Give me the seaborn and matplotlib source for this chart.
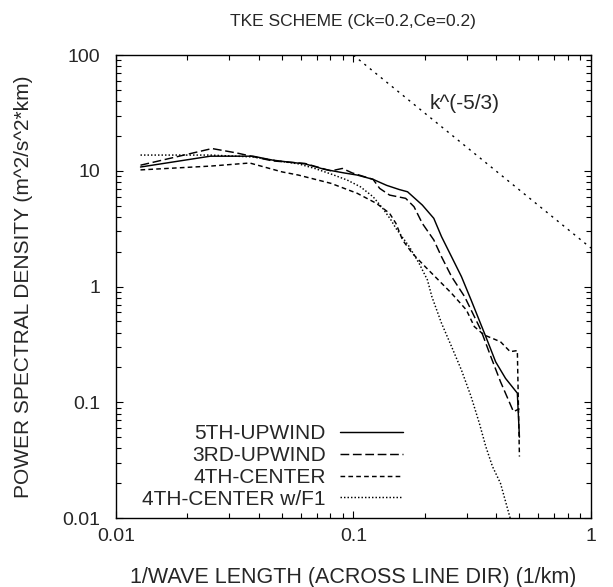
import pandas as pd
import seaborn as sns
import matplotlib
matplotlib.use('Agg')
import matplotlib.pyplot as plt
from matplotlib import ticker

# values (k in 1/km, PSD in m^2/s^2*km)
k_5up = [0.0127, 0.025, 0.0378, 0.0456, 0.0518, 0.0625, 0.0757, 0.0914, 0.1038, 0.121,
         0.138, 0.156, 0.169, 0.195, 0.218, 0.235, 0.259, 0.285, 0.313, 0.361, 0.397,
         0.437, 0.49, 0.5]
psd_5up = [10.8, 13.4, 13.4, 12.4, 12.0, 11.5, 10.3, 9.6, 9.2, 8.45,
           7.5, 6.9, 6.6, 5.07, 3.89, 2.70, 1.81, 1.22, 0.766, 0.369, 0.224,
           0.161, 0.12, 0.050]

k_3up = [0.0127, 0.0254, 0.0322, 0.0456, 0.0625, 0.0805, 0.0899, 0.0989, 0.121, 0.129,
         0.142, 0.166, 0.180, 0.195, 0.218, 0.235, 0.259, 0.294, 0.344, 0.379,
         0.416, 0.472, 0.5]
psd_3up = [11.2, 15.6, 14.3, 12.2, 11.6, 10.0, 10.5, 9.6, 8.45, 7.06,
           6.18, 5.79, 4.9, 3.52, 2.53, 1.81, 1.22, 0.818, 0.422, 0.248,
           0.151, 0.083, 0.088]

k_4c = [0.0127, 0.025, 0.0366, 0.0501, 0.0587, 0.0805, 0.1038, 0.125, 0.142, 0.151,
        0.161, 0.177, 0.201, 0.228, 0.259, 0.299, 0.323, 0.355, 0.416, 0.457,
        0.49, 0.5]
psd_4c = [10.2, 11.0, 11.7, 9.8, 9.2, 7.8, 6.4, 5.24, 4.30, 3.52,
          2.53, 1.94, 1.48, 1.14, 0.875, 0.628, 0.451, 0.382, 0.334, 0.274,
          0.28, 0.034]

k_4cf = [0.0127, 0.025, 0.0378, 0.0456, 0.0587, 0.0687, 0.0805, 0.0942, 0.107, 0.121,
         0.133, 0.144, 0.151, 0.172, 0.189, 0.205, 0.214, 0.235, 0.259, 0.285,
         0.313, 0.339, 0.361, 0.385, 0.416, 0.457, 0.5]
psd_4cf = [13.7, 13.7, 13.2, 12.4, 11.5, 10.5, 9.4, 8.33, 7.29, 5.98,
           4.74, 3.76, 3.19, 2.21, 1.59, 1.14, 0.818, 0.482, 0.303, 0.19,
           0.112, 0.066, 0.0414, 0.0279, 0.020, 0.010, 0.007]

# k^(-5/3) reference line
k_ref = [0.1, 1.0]
psd_ref = [100.0, 2.154]

labels = ['5TH-UPWIND', '3RD-UPWIND', '4TH-CENTER', '4TH-CENTER w/F1']
styles = ['-', (0, (6, 2.5)), (0, (3.2, 2.2)), (0, (1, 1.4))]

df = pd.concat([
    pd.DataFrame({'k': k_5up, 'psd': psd_5up, 'scheme': labels[0]}),
    pd.DataFrame({'k': k_3up, 'psd': psd_3up, 'scheme': labels[1]}),
    pd.DataFrame({'k': k_4c, 'psd': psd_4c, 'scheme': labels[2]}),
    pd.DataFrame({'k': k_4cf, 'psd': psd_4cf, 'scheme': labels[3]}),
])

sns.set_style('ticks')
plt.rcParams['font.family'] = ['Liberation Sans', 'DejaVu Sans']

fig = plt.figure(figsize=(6.13, 5.87), dpi=100)
ax = fig.add_axes([0.189, 0.1175, 0.775, 0.7885])

for name, ls in zip(labels, styles):
    sub = df[df['scheme'] == name]
    sns.lineplot(x=sub['k'], y=sub['psd'], ax=ax, color='black', lw=1.05,
                 linestyle=ls, estimator=None, sort=False, label=name)

sns.lineplot(x=k_ref, y=psd_ref, ax=ax, color='black', lw=1.0,
             linestyle=(0, (1.6, 3.5)), estimator=None, sort=False)
ax.text(0.661, 0.895, 'k^(-5/3)', transform=ax.transAxes, fontsize=15,
        ha='left', va='center')

ax.set_xscale('log')
ax.set_yscale('log')
ax.set_xlim(0.01, 1)
ax.set_ylim(0.01, 100)
fmt = ticker.FuncFormatter(lambda v, p: '%g' % v)
ax.xaxis.set_major_formatter(fmt)
ax.yaxis.set_major_formatter(fmt)
ax.xaxis.set_minor_formatter(ticker.NullFormatter())
ax.yaxis.set_minor_formatter(ticker.NullFormatter())
ax.tick_params(which='both', direction='in', top=True, right=True, width=0.8,
               labelsize=14, color='black')
ax.tick_params(which='major', length=5)
ax.tick_params(which='minor', length=3.3)
ax.tick_params(axis='x', which='major', pad=7)
ax.tick_params(axis='y', which='major', pad=11)
for s in ax.spines.values():
    s.set_linewidth(1.0)
    s.set_color('black')

ax.set_xlabel('1/WAVE LENGTH (ACROSS LINE DIR) (1/km)', fontsize=15.5, labelpad=16)
ax.set_ylabel('POWER SPECTRAL DENSITY (m^2/s^2*km)', fontsize=15, labelpad=21)
ax.set_title('TKE SCHEME (Ck=0.2,Ce=0.2)', fontsize=12.5, pad=21)

handles, labs = ax.get_legend_handles_labels()
ax.legend(handles, labs, loc='lower right', bbox_to_anchor=(0.604, 0.02),
          frameon=False, markerfirst=False, fontsize=15, handlelength=3.0,
          handletextpad=0.7, labelspacing=0.14, borderpad=0, borderaxespad=0)

fig.savefig('out.png', dpi=100)
